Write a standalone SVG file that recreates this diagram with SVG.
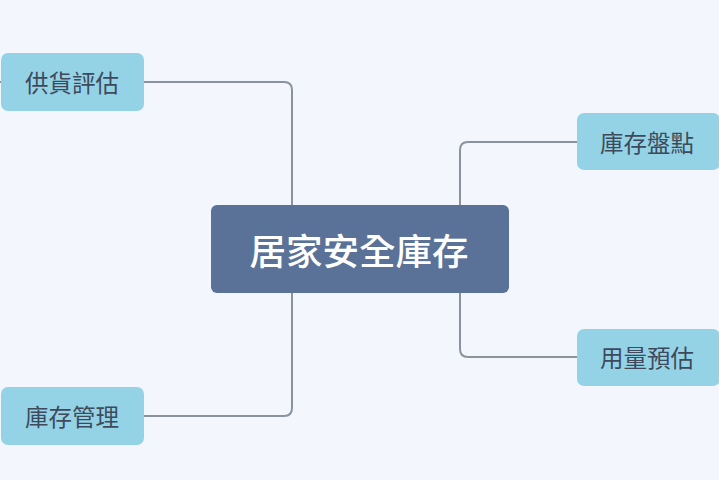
<svg xmlns="http://www.w3.org/2000/svg" width="719" height="480" viewBox="0 0 719 480">
<style>
.bg{fill:#f3f7fd}
.leaf rect{fill:#94d3e6}
.leaf text{fill:#3e4a5c;font-family:"Noto Sans CJK TC","Noto Sans CJK SC",sans-serif;font-size:23.5px;text-anchor:middle;dominant-baseline:central}
.root rect{fill:#5a7298}
.root text{fill:#ffffff;font-family:"Noto Sans CJK TC","Noto Sans CJK SC",sans-serif;font-size:36.5px;font-weight:500;text-anchor:middle;dominant-baseline:central}
.conn path{fill:none;stroke:#8a929e;stroke-width:2}
</style>
<rect class="bg" x="0" y="0" width="719" height="480"/>
<g id="connectors" class="conn">
<path d="M292 205 V90 Q292 82 284 82 H144"/>
<path d="M292 293 V408 Q292 416 284 416 H144"/>
<path d="M460 205 V150 Q460 142 468 142 H577"/>
<path d="M460 293 V349 Q460 357 468 357 H577"/>
<path d="M0 82 H2"/>
</g>
<g id="root" class="root">
<rect x="211" y="205" width="298" height="88" rx="6"/>
<text x="359" y="249">居家安全庫存</text>
</g>
<g id="n1" class="leaf">
<rect x="1" y="53" width="143" height="58" rx="7"/>
<text x="72" y="82">供貨評估</text>
</g>
<g id="n2" class="leaf">
<rect x="1" y="387" width="143" height="58" rx="7"/>
<text x="72" y="416">庫存管理</text>
</g>
<g id="n3" class="leaf">
<rect x="577" y="113" width="143" height="57" rx="7"/>
<text x="647" y="142">庫存盤點</text>
</g>
<g id="n4" class="leaf">
<rect x="577" y="329" width="143" height="57" rx="7"/>
<text x="647" y="357">用量預估</text>
</g>
</svg>
